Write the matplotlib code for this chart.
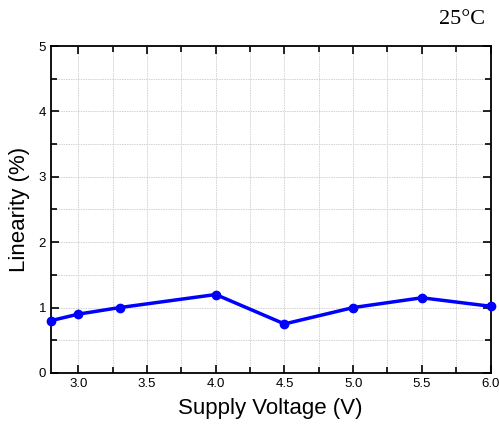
import matplotlib
matplotlib.use('Agg')
import matplotlib.pyplot as plt
from matplotlib.ticker import MultipleLocator

# supply voltage (V) vs linearity (%) at 25 C
voltage = [2.8, 3.0, 3.3, 4.0, 4.5, 5.0, 5.5, 6.0]
linearity = [0.80, 0.90, 1.00, 1.20, 0.75, 1.00, 1.15, 1.02]

plt.rcParams['font.family'] = ['Liberation Sans', 'DejaVu Sans']

fig = plt.figure(figsize=(4.99, 4.30), dpi=100)
ax = fig.add_axes([0.102, 0.1326, 0.881, 0.7604])

ax.plot(voltage, linearity, color='#0000ff', linewidth=2.5, marker='o', markersize=6, clip_on=False, zorder=5)

ax.set_xlim(2.8, 6.0)
ax.set_ylim(0, 5)
ax.xaxis.set_major_locator(MultipleLocator(0.5))
ax.xaxis.set_minor_locator(MultipleLocator(0.25))
ax.yaxis.set_major_locator(MultipleLocator(1))
ax.yaxis.set_minor_locator(MultipleLocator(0.5))
ax.xaxis.set_major_formatter(matplotlib.ticker.FormatStrFormatter('%.1f'))

ax.grid(True, which='both', color='#d2d2d2', linestyle=(0, (1.5, 1)), linewidth=0.7)
ax.set_axisbelow(True)

ax.tick_params(which='both', direction='in', top=True, right=True, labelsize=9.5, width=1.2)
ax.tick_params(which='major', length=6)
ax.tick_params(which='minor', length=4)
for s in ax.spines.values():
    s.set_linewidth(1.3)

ax.set_xlabel('Supply Voltage (V)', fontsize=16, labelpad=6)
ax.set_ylabel('Linearity (%)', fontsize=16, labelpad=6)

fig.text(0.972, 0.955, '25\u00b0C', fontsize=16, family=['Liberation Serif', 'DejaVu Serif'], ha='right', va='center')

fig.savefig('out.png', dpi=100)
